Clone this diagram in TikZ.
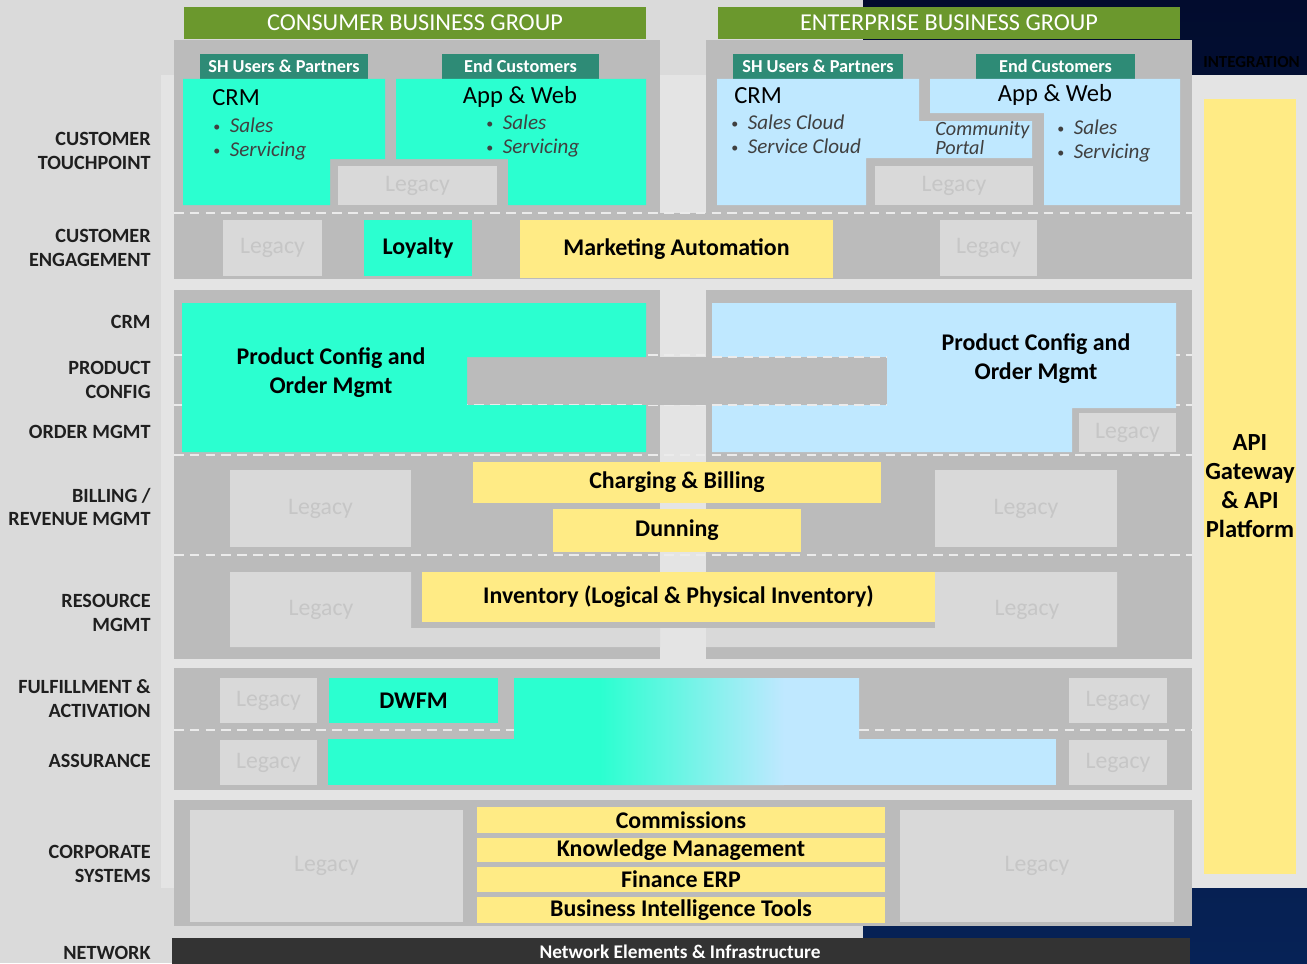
\documentclass[tikz,border=0pt]{standalone}
\usepackage{fontspec}
\setmainfont{Carlito}
\usepackage{tikz}
\usetikzlibrary{fit}
\definecolor{basegray}{HTML}{DADADA}
\definecolor{panelgray}{HTML}{E4E4E4}
\definecolor{blkgray}{HTML}{BBBBBB}
\definecolor{legfill}{HTML}{D9D9D9}
\definecolor{legtext}{HTML}{C6C6C6}
\definecolor{grpgreen}{HTML}{6B982D}
\definecolor{tabteal}{HTML}{2E8B76}
\definecolor{aqua}{HTML}{2BFFD0}
\definecolor{ltblue}{HTML}{BFE8FF}
\definecolor{sunyellow}{HTML}{FFEB85}
\definecolor{navytop}{HTML}{020C2E}
\definecolor{navybot}{HTML}{062256}
\definecolor{netdark}{HTML}{333333}
\definecolor{bullettext}{HTML}{404040}
\newcommand{\bul}{\raisebox{0.6pt}{\fontsize{8}{8}\selectfont\textbullet}\hspace{0.45em}}

\begin{document}
\begin{tikzpicture}[x=0.02cm, y=-0.02cm,
  % boxes are fitted to their corners, the text sits in a centred label
  box/.style={inner sep=0pt},
  legtxt/.style={text=legtext, font=\fontsize{13.5}{15}\selectfont},
  yeltxt/.style={align=center, font=\bfseries\fontsize{13.6}{16.5}\selectfont},
  legbox/.style={box, fill=legfill, label={[legtxt]center:Legacy}},
  yelbox/.style={box, fill=sunyellow},
  aquabox/.style={box, fill=aqua},
  grpbar/.style={box, fill=grpgreen},
  grptxt/.style={text=white, font=\fontsize{13.8}{16}\selectfont},
  tabbox/.style={box, fill=tabteal},
  tabtxt/.style={text=white, font=\bfseries\fontsize{10.4}{12}\selectfont},
  apptitle/.style={font=\fontsize{14}{16}\selectfont},
  bullets/.style={anchor=west, inner sep=0pt, align=left, text=bullettext, font=\fontsize{12}{13.6}\selectfont},
  rowlabel/.style={anchor=east, inner sep=0pt, align=right, text=black!88, font=\bfseries\fontsize{11.5}{13.6}\selectfont},
  sepline/.style={draw=white!92!black, line width=1.2pt, dash pattern=on 5.5pt off 3.5pt}
]
\useasboundingbox (0,0) rectangle (1307,963);
\clip (0,0) rectangle (1307,963);

% backdrop
\fill[basegray] (0,0) rectangle (863,963);
\shade[top color=navytop, bottom color=navybot] (863,0) rectangle (1307,963);
\fill[panelgray] (161,75) rectangle (1307,888);

% business groups
\node[grpbar, fit={(184,7) (646,39)}, label={[grptxt]center:CONSUMER BUSINESS GROUP}] (consumer) {};
\node[grpbar, fit={(718,7) (1180,39)}, label={[grptxt]center:ENTERPRISE BUSINESS GROUP}] (enterprise) {};

% grey layer blocks
\fill[blkgray] (174,40) rectangle (660,213);
\fill[blkgray] (706,40) rectangle (1192,213);
\fill[blkgray] (174,213) rectangle (1192,279);
\fill[blkgray] (174,290) rectangle (660,659);
\fill[blkgray] (706,290) rectangle (1192,659);
\fill[blkgray] (646,357) rectangle (712,405);
\fill[blkgray] (660,572) rectangle (706,628);
\fill[blkgray] (174,668) rectangle (1192,790);
\fill[blkgray] (174,800) rectangle (1192,926);

% row separators
\draw[sepline] (174,213) -- (1192,213);
\draw[sepline] (174,355) -- (1192,355);
\draw[sepline] (174,405) -- (1192,405);
\draw[sepline] (174,455) -- (1192,455);
\draw[sepline] (174,555) -- (1192,555);
\draw[sepline] (174,730) -- (514,730);
\draw[sepline] (859,730) -- (1192,730);

% customer touchpoint - consumer
\node[tabbox, fit={(200,54) (368,79)}, label={[tabtxt]center:SH Users \& Partners}] (shcons) {};
\node[tabbox, fit={(442,54) (599,79)}, label={[tabtxt]center:End Customers}] (endcons) {};
\fill[aqua] (183,79) -- (385,79) -- (385,159) -- (330,159) -- (330,205) -- (183,205) -- cycle;
\fill[aqua] (396,79) -- (646,79) -- (646,205) -- (508,205) -- (508,159) -- (396,159) -- cycle;
\node[legbox, fit={(338,166) (497,205)}] (legtpc) {};
\node[apptitle, anchor=west, inner sep=0pt] (crmcons) at (212,98) {CRM};
\node[bullets] (crmconslist) at (213,139) {\bul\textit{Sales}\\\bul\textit{Servicing}};
\node[apptitle] (appcons) at (520,97) {App \& Web};
\node[bullets] (appconslist) at (486,136) {\bul\textit{Sales}\\\bul\textit{Servicing}};

% customer touchpoint - enterprise
\node[tabbox, fit={(733,54) (903,79)}, label={[tabtxt]center:SH Users \& Partners}] (shent) {};
\node[tabbox, fit={(976,54) (1135,79)}, label={[tabtxt]center:End Customers}] (endent) {};
\fill[ltblue] (717,79) -- (919,79) -- (919,121) -- (1032,121) -- (1032,158) -- (866,158) -- (866,205) -- (717,205) -- cycle;
\fill[ltblue] (930,79) -- (1180,79) -- (1180,205) -- (1044,205) -- (1044,113) -- (930,113) -- cycle;
\node[legbox, fit={(875,166) (1033,205)}] (legtpe) {};
\node[apptitle, anchor=west, inner sep=0pt] (crment) at (734,96) {CRM};
\node[bullets] (crmentlist) at (731,134) {\bul\textit{Sales Cloud}\\\bul\textit{Service Cloud}};
\node[bullets, font=\itshape\fontsize{11.5}{9.5}\selectfont] (portal) at (935,138) {Community\\Portal};
\node[apptitle] (appent) at (1055,95) {App \& Web};
\node[bullets] (appentlist) at (1057,141) {\bul\textit{Sales}\\\bul\textit{Servicing}};

% customer engagement
\node[legbox, fit={(223,220) (322,276)}] (legce1) {};
\node[aquabox, fit={(364,220) (472,276)}, label={[yeltxt]center:Loyalty}] (loyalty) {};
\node[yelbox, fit={(520,220) (833,278)}, label={[yeltxt]center:Marketing Automation}] (marketing) {};
\node[legbox, fit={(940,220) (1037,276)}] (legce2) {};

% crm / product config / order mgmt
\fill[aqua] (182,303) -- (646,303) -- (646,357) -- (467,357) -- (467,405) -- (646,405) -- (646,452) -- (182,452) -- cycle;
\fill[ltblue] (712,303) -- (1176,303) -- (1176,408) -- (1072,408) -- (1072,452) -- (712,452) -- (712,405) -- (887,405) -- (887,357) -- (712,357) -- cycle;
\fill[blkgray] (646,357) rectangle (887,405);
\draw[sepline] (712,357) -- (887,357);
\draw[sepline] (712,405) -- (887,405);
\node[yeltxt] (pcocons) at (331,373) {Product Config and\\Order Mgmt};
\node[yeltxt] (pcoent) at (1036,359) {Product Config and\\Order Mgmt};
\node[legbox, fit={(1079,413) (1176,452)}] (legpco) {};

% billing / revenue mgmt
\node[legbox, fit={(230,470) (411,547)}] (legbil1) {};
\node[yelbox, fit={(473,462) (881,503)}, label={[yeltxt]center:Charging \& Billing}] (charging) {};
\node[yelbox, fit={(553,509) (801,552)}, label={[yeltxt]center:Dunning}] (dunning) {};
\node[legbox, fit={(935,470) (1117,547)}] (legbil2) {};

% resource mgmt
\fill[legfill] (230,572) -- (411,572) -- (411,628) -- (660,628) -- (660,647) -- (230,647) -- cycle;
\fill[legfill] (935,572) -- (1117,572) -- (1117,647) -- (706,647) -- (706,628) -- (935,628) -- cycle;
\node[legtxt] (legres1) at (321,610) {Legacy};
\node[legtxt] (legres2) at (1027,610) {Legacy};
\node[yelbox, fit={(422,572) (935,622)}, label={[yeltxt]center:Inventory (Logical \& Physical Inventory)}] (inventory) {};

% fulfillment & activation / assurance
\node[legbox, fit={(220,678) (317,723)}] (legful1) {};
\node[aquabox, fit={(329,678) (498,723)}, label={[yeltxt]center:DWFM}] (dwfm) {};
\node[legbox, fit={(220,740) (317,785)}] (legass1) {};
\begin{scope}
  \clip (514,678) -- (859,678) -- (859,739) -- (1056,739) -- (1056,785) -- (328,785) -- (328,739) -- (514,739) -- cycle;
  \fill[aqua] (328,678) rectangle (600,785);
  \shade[left color=aqua, right color=ltblue] (600,678) rectangle (784,785);
  \fill[ltblue] (784,678) rectangle (1056,785);
\end{scope}
\node[legbox, fit={(1069,678) (1167,723)}] (legful2) {};
\node[legbox, fit={(1069,740) (1167,785)}] (legass2) {};

% corporate systems
\node[legbox, fit={(190,810) (463,922)}] (legcorp1) {};
\node[yelbox, fit={(477,807) (885,833)}, label={[yeltxt]center:Commissions}] (commissions) {};
\node[yelbox, fit={(477,838) (885,862)}, label={[yeltxt]center:Knowledge Management}] (knowledge) {};
\node[yelbox, fit={(477,867) (885,892)}, label={[yeltxt]center:Finance ERP}] (finance) {};
\node[yelbox, fit={(477,897) (885,923)}, label={[yeltxt]center:Business Intelligence Tools}] (bitools) {};
\node[legbox, fit={(900,810) (1174,922)}] (legcorp2) {};

% network
\node[box, fill=netdark, fit={(172,938) (1190,966)}] (network) {};
\node[text=white, font=\bfseries\fontsize{11}{13}\selectfont] (networktxt) at (680,952) {Network Elements \& Infrastructure};

% integration
\fill[panelgray] (1192,75) rectangle (1307,888);
\node[anchor=west, inner sep=0pt, text=black, font=\bfseries\fontsize{9.6}{12}\selectfont] (integration) at (1203,62) {INTEGRATION};
\node[yelbox, fit={(1204,99) (1296,874)}, label={[yeltxt, font=\bfseries\fontsize{14}{16.5}\selectfont]center:API\\Gateway\\\& API\\Platform}] (apigw) {};

% layer labels
\node[rowlabel] (lbltouch) at (151,151) {CUSTOMER\\TOUCHPOINT};
\node[rowlabel] (lblengage) at (151,248) {CUSTOMER\\ENGAGEMENT};
\node[rowlabel] (lblcrm) at (151,322) {CRM};
\node[rowlabel] (lblconfig) at (151,380) {PRODUCT\\CONFIG};
\node[rowlabel] (lblorder) at (151,432) {ORDER MGMT};
\node[rowlabel] (lblbilling) at (151,507) {BILLING /\\REVENUE MGMT};
\node[rowlabel] (lblresource) at (151,613) {RESOURCE\\MGMT};
\node[rowlabel] (lblfulfil) at (151,699) {FULFILLMENT \&\\ACTIVATION};
\node[rowlabel] (lblassure) at (151,761) {ASSURANCE};
\node[rowlabel] (lblcorp) at (151,864) {CORPORATE\\SYSTEMS};
\node[rowlabel] (lblnetwork) at (151,953) {NETWORK};

\end{tikzpicture}
\end{document}
